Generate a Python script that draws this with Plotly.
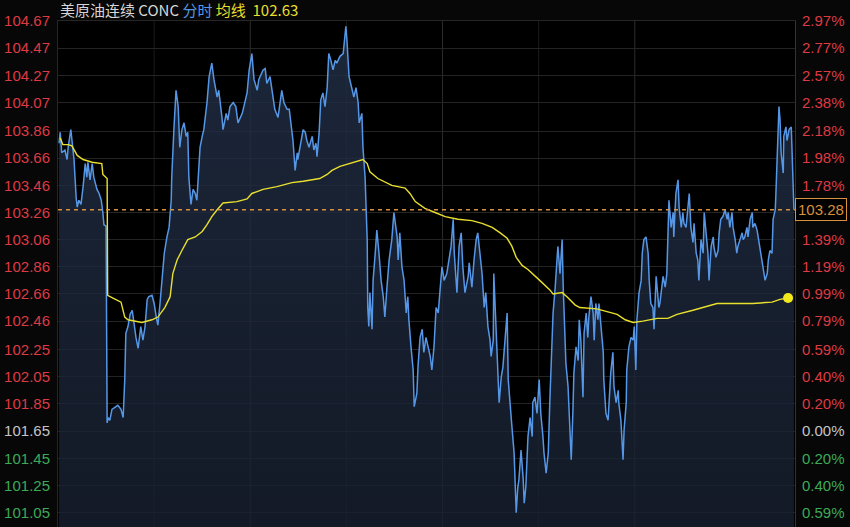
import plotly.graph_objects as go

# ---------------- data (minute of session, price) ----------------
price_times = [2, 4, 7, 13, 17, 19, 24, 26, 30, 34, 36, 39, 43, 47, 51, 54, 56, 60, 64, 67, 73, 77, 81, 84, 86, 90,
               92, 94, 97, 101, 107, 112, 118, 122, 125, 127, 131, 135, 139, 142, 146, 150, 152, 155, 159, 163, 167,
               170, 176, 180, 184, 187, 191, 195, 199, 204, 208, 212, 213, 217, 221, 225, 228, 232, 236, 240, 243,
               245, 249, 253, 257, 260, 262, 266, 270, 273, 279, 283, 288, 292,
               298, 301, 307, 309, 315, 318, 322, 328, 333, 337, 345, 348, 354, 358, 363, 367, 373, 376, 384, 388,
               391, 397, 403, 406, 412, 416, 419, 423, 429, 433, 436, 440, 444, 448, 449, 455, 459, 463, 466, 470,
               476, 479, 483, 485, 489, 492, 496, 500, 504, 507, 511, 515, 519, 522, 528, 534, 536, 539, 541, 545,
               551, 554, 558, 562, 564, 569, 571, 575, 579, 580, 582,
               584, 588, 590, 594, 597, 601, 605, 609, 612, 616, 620, 625, 629, 635, 637, 640, 644, 648, 652, 655,
               657, 661, 665, 667, 672, 674, 678, 682, 685, 689, 693, 697, 700, 704, 708, 712, 715, 719, 723, 728,
               732, 736, 740, 742, 747, 751, 755, 758, 762, 768, 770, 775, 779, 783, 786, 790, 794, 798, 801, 805,
               809, 811, 815, 816, 820, 824, 826, 830, 833, 837, 841, 843, 846, 850, 854, 858, 861, 863, 867, 871,
               873, 876, 880, 884, 888, 889, 893, 897, 901, 904, 908, 910, 914, 918, 921, 925, 927, 931, 934, 936,
               940, 944, 946, 949, 951, 955, 957, 961, 964, 966, 970, 974, 976, 979, 983, 985, 989, 992, 994, 998,
               1002, 1004, 1007, 1011, 1013, 1017, 1021, 1022, 1026, 1030, 1032, 1035, 1039, 1041, 1045, 1049, 1050,
               1054, 1058, 1060, 1064, 1065, 1069, 1073, 1077, 1079, 1082, 1084, 1088, 1092, 1094, 1097, 1101, 1105,
               1107, 1110, 1114, 1116, 1120, 1123, 1125,
               1127, 1133, 1137, 1140, 1144, 1148, 1152, 1153, 1157, 1161, 1163, 1167, 1170, 1172, 1176, 1180, 1182,
               1185, 1189, 1191, 1195, 1198, 1200, 1204, 1208, 1210, 1213, 1217, 1219, 1223, 1227, 1228, 1232, 1236,
               1238, 1241, 1245, 1249, 1253, 1255, 1258, 1262, 1264, 1268, 1271, 1273, 1277, 1281, 1283, 1286, 1290,
               1292, 1296, 1300, 1301, 1305, 1309, 1311, 1315, 1318, 1320, 1324, 1328, 1330, 1333, 1337, 1339, 1343,
               1344, 1346, 1350, 1352, 1354, 1358, 1359, 1363, 1365, 1369, 1373, 1374, 1376, 1378]

price_values = [103.77, 103.85, 103.70, 103.72, 103.65, 103.74, 103.87, 103.79, 103.65, 103.37, 103.30, 103.35, 103.32,
                103.45, 103.62, 103.52, 103.63, 103.50, 103.62, 103.52, 103.43, 103.40, 103.35, 103.26, 103.17, 103.16,
                101.71, 101.75, 101.73, 101.81, 101.83, 101.84, 101.81, 101.75, 102.03, 102.37, 102.42, 102.51, 102.54,
                102.45, 102.34, 102.26, 102.34, 102.42, 102.32, 102.42, 102.62, 102.64, 102.65, 102.59, 102.49, 102.43,
                102.59, 102.79, 102.96, 103.08, 103.15, 103.35, 103.52, 103.87, 104.16, 104.04, 103.74, 103.87, 103.92,
                103.82, 103.85, 103.52, 103.32, 103.43, 103.40, 103.35, 103.48, 103.74, 103.82, 103.87, 104.07, 104.26,
                104.36, 104.24,
                104.11, 104.16, 103.96, 103.87, 103.99, 103.94, 104.04, 104.07, 104.04, 103.92, 103.99, 104.04, 104.14,
                104.31, 104.43, 104.24, 104.16, 104.24, 104.31, 104.32, 104.21, 104.26, 104.09, 104.02, 103.96, 104.07,
                104.16, 104.07, 104.02, 104.02, 103.92, 103.79, 103.57, 103.70, 103.65, 103.77, 103.87, 103.85, 103.79,
                103.74, 103.82, 103.72, 103.77, 103.67, 103.85, 104.09, 104.14, 104.04, 104.18, 104.43, 104.38, 104.31,
                104.38, 104.36, 104.41, 104.43, 104.53, 104.63, 104.53, 104.26, 104.16, 104.11, 104.18, 104.07, 103.92,
                103.99, 103.74, 103.52, 103.05, 102.56, 102.42,
                102.67, 102.40, 102.76, 102.96, 103.13, 102.96, 102.76, 102.64, 102.49, 102.71, 102.91, 103.06, 103.26,
                103.08, 102.91, 103.11, 102.86, 102.76, 102.52, 102.64, 102.47, 102.27, 102.10, 101.83, 101.93, 102.12,
                102.34, 102.40, 102.23, 102.34, 102.27, 102.20, 102.10, 102.27, 102.56, 102.52, 102.67, 102.86, 102.76,
                102.81, 102.91, 103.01, 103.21, 102.96, 102.67, 103.01, 103.11, 102.86, 102.67, 102.79, 102.89, 102.71,
                102.91, 103.06, 103.11, 102.98, 102.81, 102.56, 102.67, 102.42, 102.32, 102.20, 102.32, 102.81, 102.47,
                102.03, 101.86, 102.05, 102.12, 102.32, 102.52, 102.03, 101.86, 101.68, 101.49, 101.05, 101.24, 101.29,
                101.51, 101.30, 101.12, 101.24, 101.61, 101.75, 101.61, 101.86, 101.90, 101.78, 102.03, 101.78, 101.61,
                101.49, 101.34, 101.49, 101.88, 102.34, 102.52, 102.71, 102.91, 103.01, 102.81, 103.06, 102.71, 102.37,
                102.15, 101.98, 101.78, 101.44, 101.78, 102.08, 102.27, 102.17, 102.47, 102.32, 101.90, 102.37, 102.52,
                102.34, 102.49, 102.64, 102.52, 102.32, 102.59, 102.47, 102.59, 102.42, 102.23, 102.03, 101.78, 101.73,
                101.86, 102.08, 102.23, 101.98, 101.86, 101.95, 101.86, 101.73, 101.44, 101.66, 101.86, 102.10, 102.27,
                102.34, 102.32, 102.42, 102.10, 102.47, 102.67, 102.76, 102.96, 103.06, 103.08, 102.96, 102.76, 102.59,
                102.56, 102.40, 102.79, 102.67, 102.56,
                102.59, 102.79, 102.71, 102.81, 103.35, 103.15, 103.26, 103.08, 103.40, 103.50, 103.30, 103.15, 103.26,
                103.18, 103.15, 103.33, 103.40, 103.15, 103.04, 103.18, 102.96, 102.91, 102.76, 103.06, 102.96, 103.26,
                103.15, 102.96, 102.76, 103.01, 103.08, 103.01, 102.93, 102.98, 103.11, 103.21, 103.23, 103.28, 103.21,
                103.26, 103.15, 103.26, 103.15, 103.06, 102.96, 103.01, 103.06, 103.11, 103.06, 103.08, 103.15, 103.08,
                103.21, 103.26, 103.15, 103.18, 103.13, 103.08, 102.96, 102.91, 102.86, 102.76, 102.81, 102.91, 102.98,
                102.96, 103.21, 103.28, 103.37, 103.65, 104.04, 103.94, 103.70, 103.55, 103.82, 103.89, 103.79, 103.87,
                103.89, 103.77, 103.45, 103.28]

avg_times = [4, 9, 19, 26, 36, 47, 64, 82, 84, 92, 93, 97, 103, 118, 125, 131, 157, 176, 187, 200, 210, 215, 223, 232,
             243, 257, 270, 279, 288, 298, 309, 335, 354, 363, 384, 410, 438, 459, 490, 504, 513, 528, 547, 562, 571,
             579, 584, 599, 625, 650, 659, 669, 687, 706, 725, 749, 775, 794, 813, 828, 841, 850, 858, 869, 880, 902,
             921, 927, 944, 953, 968, 977, 1009, 1028, 1047, 1062, 1077, 1095, 1122, 1142, 1159, 1189, 1208, 1234,
             1264, 1301, 1337, 1352, 1367]
avg_values = [103.81, 103.76, 103.76, 103.75, 103.68, 103.65, 103.63, 103.62, 103.54, 103.51, 102.65, 102.64, 102.63,
              102.60, 102.49, 102.47, 102.45, 102.47, 102.49, 102.56, 102.64, 102.81, 102.91, 102.98, 103.06, 103.08,
              103.12, 103.17, 103.23, 103.28, 103.33, 103.34, 103.36, 103.40, 103.43, 103.45, 103.48, 103.49, 103.51,
              103.54, 103.57, 103.60, 103.62, 103.64, 103.65, 103.62, 103.56, 103.51, 103.46, 103.44, 103.40, 103.34,
              103.29, 103.26, 103.23, 103.21, 103.20, 103.18, 103.15, 103.11, 103.07, 103.01, 102.93, 102.87, 102.84,
              102.76, 102.69, 102.66, 102.67, 102.64, 102.58, 102.56, 102.55, 102.53, 102.51, 102.47, 102.45, 102.46,
              102.48, 102.48, 102.51, 102.54, 102.56, 102.59, 102.59, 102.59, 102.60, 102.62, 102.63]

last_price = 103.28
avg_last = "102.63"
title_name = "美原油连续 CONC"
title_line = "分时"
title_avg = "均线"

price_labels = ["104.67", "104.47", "104.27", "104.07", "103.86", "103.66", "103.46", "103.26", "103.06", "102.86",
                "102.66", "102.46", "102.25", "102.05", "101.85", "101.65", "101.45", "101.25", "101.05"]
pct_labels = ["2.97%", "2.77%", "2.57%", "2.38%", "2.18%", "1.98%", "1.78%", "1.58%", "1.39%", "1.19%", "0.99%",
              "0.79%", "0.59%", "0.40%", "0.20%", "0.00%", "0.20%", "0.40%", "0.59%"]
base_label = "101.65"

# ---------------- styling ----------------
RED = "#de3a43"
GREEN = "#3daa58"
GRAY = "#c4c4c4"
BG = "#070707"
GRID = "#242424"
BLUE = "#5597e6"
YELLOW = "#e8df2e"
ORANGE = "#d8913e"
FONT = "Liberation Sans, Arial, sans-serif"

tick_vals = [float(s) for s in price_labels]
base_val = float(base_label)


def colored(text, v):
    if abs(v - base_val) < 1e-6:
        c = GRAY
    elif v > base_val:
        c = RED
    else:
        c = GREEN
    return f'<span style="color:{c}">{text}</span>'


left_text = [colored(t, v) for t, v in zip(price_labels, tick_vals)]
right_text = [colored(t, v) for t, v in zip(pct_labels, tick_vals)]

y_range = [100.944, 104.67]
x_range = [0, 1380]

fig = go.Figure()

fig.add_trace(go.Scatter(
    x=price_times, y=price_values, mode="lines",
    line=dict(color=BLUE, width=1.5),
    fill="tozeroy",
    fillgradient=dict(type="vertical",
                      colorscale=[[0, "rgba(24,32,48,0.8)"], [1, "rgba(34,48,72,0.8)"]],
                      start=y_range[0], stop=y_range[1]),
    hoverinfo="skip", showlegend=False, yaxis="y"))

fig.add_trace(go.Scatter(
    x=avg_times, y=avg_values, mode="lines",
    line=dict(color=YELLOW, width=1.4),
    hoverinfo="skip", showlegend=False, yaxis="y"))

fig.add_trace(go.Scatter(
    x=[avg_times[-1]], y=[avg_values[-1]], mode="markers",
    marker=dict(color="#f2ea1c", size=10),
    hoverinfo="skip", showlegend=False, yaxis="y"))

# invisible trace for the right axis
fig.add_trace(go.Scatter(x=[x_range[0]], y=[y_range[0]], mode="markers", marker=dict(opacity=0),
                         hoverinfo="skip", showlegend=False, yaxis="y2"))

# vertical grid lines (every 3 hours, brighter every 6 hours)
shapes = []
for m in [180, 360, 540, 720, 900, 1080]:
    bright = (m % 360 == 0)
    shapes.append(dict(type="line", xref="x", yref="paper", x0=m, x1=m, y0=0, y1=1,
                       line=dict(color="#2c2c2c" if bright else "#1b1b1b", width=1), layer="below"))
# last price dashed line
shapes.append(dict(type="line", xref="paper", yref="y", x0=0, x1=1, y0=last_price, y1=last_price,
                   line=dict(color=ORANGE, width=1.3, dash="4px,4px"), layer="above"))

annotations = [
    dict(xref="paper", yref="paper", x=0.0, y=1 + 11 / 506, xanchor="left", yanchor="middle", showarrow=False,
         text=(f'<span style="color:#d6d6d6">{title_name}</span> '
               f'<span style="color:{BLUE}">{title_line}</span> '
               f'<span style="color:{YELLOW}">{title_avg}</span>&nbsp;&nbsp;'
               f'<span style="color:{YELLOW}">{avg_last}</span>'),
         font=dict(family="Noto Sans CJK SC, " + FONT, size=15)),
    dict(xref="paper", yref="y", x=1.0, y=last_price, xanchor="left", yanchor="middle", showarrow=False,
         text=f"{last_price:.2f}", font=dict(family=FONT, size=15, color=ORANGE),
         bgcolor="#000000", bordercolor=ORANGE, borderwidth=1, borderpad=2),
]

fig.update_layout(
    width=850, height=527,
    margin=dict(l=58, r=55, t=21, b=0, autoexpand=False),
    paper_bgcolor=BG, plot_bgcolor="#000000",
    xaxis=dict(range=x_range, showgrid=False, zeroline=False, showticklabels=False, automargin=False,
               showline=True, linecolor="#262626", mirror=True, fixedrange=True),
    yaxis=dict(range=y_range, tickmode="array", tickvals=tick_vals, ticktext=left_text, automargin=False,
               showgrid=True, gridcolor=GRID, gridwidth=1, zeroline=False,
               showline=True, linecolor="#262626", ticks="", ticklabelstandoff=4,
               tickfont=dict(family=FONT, size=15, color=RED)),
    yaxis2=dict(range=y_range, overlaying="y", side="right", tickmode="array", tickvals=tick_vals,
                ticktext=right_text, showgrid=False, zeroline=False, showline=True, linecolor="#333333",
                automargin=False, ticks="", ticklabelstandoff=3, tickfont=dict(family=FONT, size=15, color=RED)),
    shapes=shapes, annotations=annotations,
)

fig.write_html(
    "out.html",
    config={"displayModeBar": False, "staticPlot": True},
    post_script="document.body.style.margin='0';document.body.style.padding='0';"
                "document.body.style.background='#070707';document.body.style.overflow='hidden';",
)
